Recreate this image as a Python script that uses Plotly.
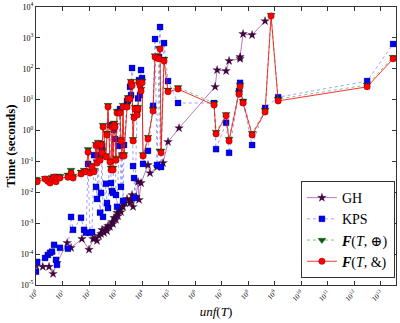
import plotly.graph_objects as go

# test cases shared by KPS and the two F variants (unf(T) values)
unf = [1.0, 1.1, 2.2, 2.8, 3.4, 4.0, 4.8, 5.7, 6.2, 8.0,
       16, 21, 25, 50, 65, 77, 92, 109, 130, 155,
       184, 200, 219, 260, 284, 310, 338, 438, 478, 521,
       620, 677, 738, 805, 877, 957, 1040, 1140, 1360, 1480,
       1610, 1760, 1920, 2090, 2720, 2960, 3520, 3850, 4200, 4580,
       4990, 5440, 6470, 7060, 7700, 8400, 9170, 10000, 10900, 16800,
       26000, 31000, 36800, 43800, 47800, 52100, 67600, 95700, 228000, 5.2e6,
       6.2e6, 1.48e7, 1.92e7, 4.57e7, 4.99e7, 6.47e7, 1.42e8, 4.38e8, 7.38e8, 1.36e9,
       3.1e12, 2.96e13]

kps = [2.7e-5, 5.6e-5, 7.5e-5, 9.4e-5, 1.1e-4, 1.2e-4, 2.0e-4, 6.5e-5, 4.5e-5, 1.6e-4,
       1.5e-4, 1.6e-3, 6.1e-4, 1.5e-3, 6.1e-4, 4.9e-4, 0.083, 4.9e-4, 5.2e-4, 0.16,
       0.015, 0.0061, 0.16, 0.0022, 0.0096, 0.32, 0.0016, 0.019, 0.0045, 0.0031,
       1.5, 0.020, 0.011, 0.0096, 1.05, 0.53, 0.0082, 0.0034, 0.32, 5.0,
       0.015, 0.34, 0.0053, 0.34, 9.1, 9.8, 26, 14, 106, 0.071,
       0.029, 0.0066, 3.4, 11, 43, 14, 91, 50, 0.083, 0.22,
       6.3, 920, 0.077, 240, 2250, 0.066, 680, 40, 7.8, 7.8,
       0.25, 1.8, 0.19, 19, 35, 8.4, 0.34, 5.4, None, 12,
       40, 635]

f_oplus = [0.027, 0.025, 0.029, 0.025, 0.023, 0.031, 0.034, 0.025, 0.034, 0.034,
           0.037, 0.053, 0.034, 0.046, 0.053, 0.050, 0.25, 0.048, 0.077, 0.053,
           0.37, 0.10, 0.43, 0.13, 0.40, 0.22, 1.5, 0.16, 0.85, 6.7,
           0.11, 0.062, 1.5, 0.062, 1.8, 1.5, 0.13, 4.3, 4.3, 4.3,
           0.53, 0.17, 6.7, 0.17, 6.7, 12, 12, 40, 32, 0.53,
           3.0, 5.8, 3.7, 5.8, 40, 35, 22, 40, 0.17, 0.62,
           5.0, 270, 250, 470, 0.22, 0.22, 210, 21, 25, 7.8,
           0.9, 3.4, 0.53, 17, 30, 9.0, 0.83, 4.6, 5500, 10.5,
           30, 240]

f_amp = [0.023, 0.022, 0.027, 0.023, 0.020, 0.027, 0.031, 0.022, 0.029, 0.029,
         0.031, 0.042, 0.029, 0.039, 0.046, 0.046, 0.20, 0.042, 0.066, 0.046,
         0.32, 0.089, 0.37, 0.11, 0.34, 0.19, 1.3, 0.14, 0.72, 5.8,
         0.096, 0.053, 1.3, 0.053, 1.5, 1.3, 0.11, 3.7, 3.7, 3.7,
         0.46, 0.15, 5.8, 0.15, 5.8, 10.5, 10.5, 35, 28, 0.46,
         2.6, 5.0, 3.2, 5.0, 35, 30, 19, 35, 0.15, 0.53,
         4.3, 240, 225, 210, 440, 0.19, 180, 18, 22, 6.7,
         0.78, 3.0, 0.46, 15, 26, 7.8, 0.72, 4.0, 5100, 9.1,
         26, 210]

# GH has its own set of cases
gh_unf = [1.0, 1.8, 3.1, 4.4, 6.2, 15, 21, 54, 100, 142,
          168, 200, 238, 284, 310, 368, 438, 478, 521, 620,
          738, 805, 877, 1040, 1140, 1240, 1480, 1610, 1760, 1920,
          2280, 2720, 3520, 3850, 4200, 4580, 5940, 7060, 7700, 9170,
          16800, 20000, 36800, 62000, 95700, 249000, 5.7e6, 6.8e6, 1.48e7, 1.92e7,
          4.99e7, 4.99e7, 6.47e7, 1.42e8, 4.38e8]
gh = [4.2e-5, 3.9e-5, 3.9e-5, 2.3e-5, 5.2e-5, 2.3e-4, 1.6e-4, 3.1e-4, 1.4e-4, 3.1e-4,
      3.3e-4, 2.7e-4, 3.9e-4, 4.5e-4, 6.1e-4, 4.9e-4, 7.0e-4, 5.6e-4, 8.2e-4, 7.6e-4,
      1.1e-3, 9.5e-4, 1.5e-3, 1.3e-3, 2.2e-3, 1.7e-3, 2.7e-3, 2.3e-3, 3.6e-3, 3.4e-3,
      4.5e-3, 6.1e-3, 4.5e-3, 5.7e-3, 8.2e-3, 3.4e-3, 7.1e-3, 0.022, 5.7e-3, 0.020,
      0.077, 0.042, 0.066, 0.089, 0.43, 1.2, 26, 91, 85, 180,
      210, 240, 1340, 1240, 3500]

y_exps = list(range(-5, 5))
x_exps = list(range(0, 14))

serif = "Liberation Serif, DejaVu Serif, serif"
edge = dict(color="rgba(0,0,0,0.4)", width=0.6)

fig = go.Figure()

fig.add_trace(go.Scatter(x=gh_unf, y=gh, name="GH", mode="lines+markers",
                         line=dict(color="rgba(160,60,160,0.7)", width=1),
                         marker=dict(symbol="star", size=6.5, color="#4a0048", line=edge)))

fig.add_trace(go.Scatter(x=unf, y=kps, name="KPS", mode="lines+markers",
                         connectgaps=True,
                         line=dict(color="rgba(80,80,255,0.55)", width=1, dash="dot"),
                         marker=dict(symbol="square", size=6, color="#0000ff", line=edge)))

fig.add_trace(go.Scatter(x=unf, y=f_oplus, name="<b><i>F</i></b>(<i>T</i>, ⊕)",
                         mode="lines+markers",
                         line=dict(color="rgba(0,140,0,0.5)", width=1, dash="dot"),
                         marker=dict(symbol="triangle-down", size=7, color="#006400", line=edge)))

fig.add_trace(go.Scatter(x=unf, y=f_amp, name="<b><i>F</i></b>(<i>T</i>, &amp;)",
                         mode="lines+markers",
                         line=dict(color="rgba(255,0,0,0.8)", width=1),
                         marker=dict(symbol="circle", size=6.5, color="#ff0000", line=edge)))

fig.update_layout(
    width=400, height=323,
    margin=dict(l=36, r=4, t=7, b=38),
    paper_bgcolor="white", plot_bgcolor="white",
    font=dict(family=serif, color="black"),
    showlegend=True,
    legend=dict(x=0.997, xanchor="right", y=0.025, yanchor="bottom",
                bordercolor="#333333", borderwidth=1, bgcolor="white",
                font=dict(size=14, family=serif), tracegroupgap=0),
    xaxis=dict(type="log", range=[0, 13.58], automargin=False,
               tickvals=[10 ** e for e in x_exps],
               ticktext=["10<sup>%d</sup>" % e for e in x_exps],
               tickangle=-45, tickfont=dict(size=7),
               ticks="inside", ticklen=4, tickcolor="#333",
               showline=True, linecolor="#333", linewidth=1, mirror="ticks",
               showgrid=False, zeroline=False,
               title=dict(text="<i>unf</i>(<i>T</i>)", font=dict(size=13), standoff=4)),
    yaxis=dict(type="log", range=[-5, 4], automargin=False,
               tickvals=[10 ** e for e in y_exps],
               ticktext=["10<sup>%d</sup>" % e for e in y_exps],
               tickfont=dict(size=8),
               ticks="inside", ticklen=4, tickcolor="#333",
               showline=True, linecolor="#333", linewidth=1, mirror="ticks",
               showgrid=False, zeroline=False,
               title=dict(text="<b>Time (seconds)</b>", font=dict(size=13), standoff=2)),
)

# drop the page's default body margin so the figure sits at the window origin
fig.write_html("out.html", config={"displayModeBar": False},
               post_script="document.body.style.margin='0';")
